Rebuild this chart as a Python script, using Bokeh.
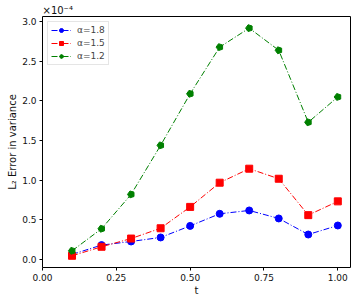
from bokeh.plotting import figure
from bokeh.models import Range1d, FixedTicker, NumeralTickFormatter, Legend, LegendItem
from bokeh.embed import file_html
from bokeh.resources import INLINE
import math

t = [0.1, 0.2, 0.3, 0.4, 0.5, 0.6, 0.7, 0.8, 0.9, 1.0]
err_18 = [0.06, 0.177, 0.223, 0.274, 0.42, 0.573, 0.615, 0.514, 0.311, 0.425]
err_15 = [0.042, 0.156, 0.26, 0.39, 0.66, 0.966, 1.143, 1.016, 0.556, 0.73]
err_12 = [0.105, 0.384, 0.818, 1.438, 2.09, 2.68, 2.92, 2.64, 1.73, 2.05]
labels = ["α=1.8", "α=1.5", "α=1.2"]
x_ticks = [0.0, 0.25, 0.5, 0.75, 1.0]
y_ticks = [0.0, 0.5, 1.0, 1.5, 2.0, 2.5, 3.0]
scale_text = "×10⁻⁴"

FONT = "DejaVu Sans"
p = figure(width=357, height=303, output_backend="svg", toolbar_location=None,
           x_range=Range1d(0.0, 1.043), y_range=Range1d(-0.106, 3.067),
           min_border_left=42, min_border_right=7, min_border_top=16, min_border_bottom=36)
p.background_fill_color = "white"
p.border_fill_color = "white"
p.outline_line_color = "black"
p.outline_line_alpha = 1
p.outline_line_width = 1
p.grid.visible = False

p.title.text = scale_text
p.title.align = "left"
p.title.text_font = FONT
p.title.text_font_size = "10px"
p.title.text_font_style = "normal"
p.title.text_color = "#111111"
p.title.standoff = 1
p.title.offset = 0

for ax in (p.xaxis[0], p.yaxis[0]):
    ax.axis_line_color = None
    ax.major_tick_out = 3
    ax.major_tick_in = 0
    ax.major_tick_line_color = "black"
    ax.minor_tick_out = 0
    ax.minor_tick_in = 0
    ax.major_label_text_font = FONT
    ax.major_label_text_font_size = "9px"
    ax.major_label_text_color = "#111111"
    ax.axis_label_text_font = FONT
    ax.axis_label_text_font_size = "10px"
    ax.axis_label_text_font_style = "normal"
    ax.axis_label_text_color = "#111111"
    ax.major_label_standoff = 3
    ax.axis_label_standoff = 1

p.xaxis.ticker = FixedTicker(ticks=x_ticks)
p.yaxis.ticker = FixedTicker(ticks=y_ticks)
p.xaxis.formatter = NumeralTickFormatter(format="0.00")
p.yaxis.formatter = NumeralTickFormatter(format="0.0")
p.xaxis.axis_label = "t"
p.yaxis.axis_label = "L₂ Error in variance"

dash = "6 2 1 2"
l1 = p.line(t, err_18, line_color="#0000ff", line_width=1, line_dash=dash)
m1 = p.scatter(t, err_18, marker="circle", size=7, fill_color="#0000ff", line_color="#0000ff")
l2 = p.line(t, err_15, line_color="#ff0000", line_width=1, line_dash=dash)
m2 = p.scatter(t, err_15, marker="square", size=7, fill_color="#ff0000", line_color="#ff0000")
l3 = p.line(t, err_12, line_color="#008000", line_width=1, line_dash=dash)
try:
    m3 = p.ngon(t, err_12, radius=3.6, radius_units="screen", n=5, angle=math.pi / 2,
                fill_color="#008000", line_color="#008000")
except Exception:
    m3 = p.scatter(t, err_12, marker="hex", size=7, fill_color="#008000", line_color="#008000")

legend = Legend(items=[LegendItem(label=labels[0], renderers=[l1, m1]),
                       LegendItem(label=labels[1], renderers=[l2, m2]),
                       LegendItem(label=labels[2], renderers=[l3, m3])],
                location="top_left")
legend.label_text_font = FONT
legend.label_text_font_size = "9px"
legend.label_text_font_style = "normal"
legend.glyph_width = 20
legend.glyph_height = 10
legend.label_height = 10
legend.label_standoff = 6
legend.spacing = 3
legend.padding = 3
legend.margin = 5
legend.border_line_color = "#cccccc"
legend.border_line_width = 1
legend.background_fill_alpha = 0.9
p.add_layout(legend)

open("out.html", "w").write(file_html(p, INLINE))
